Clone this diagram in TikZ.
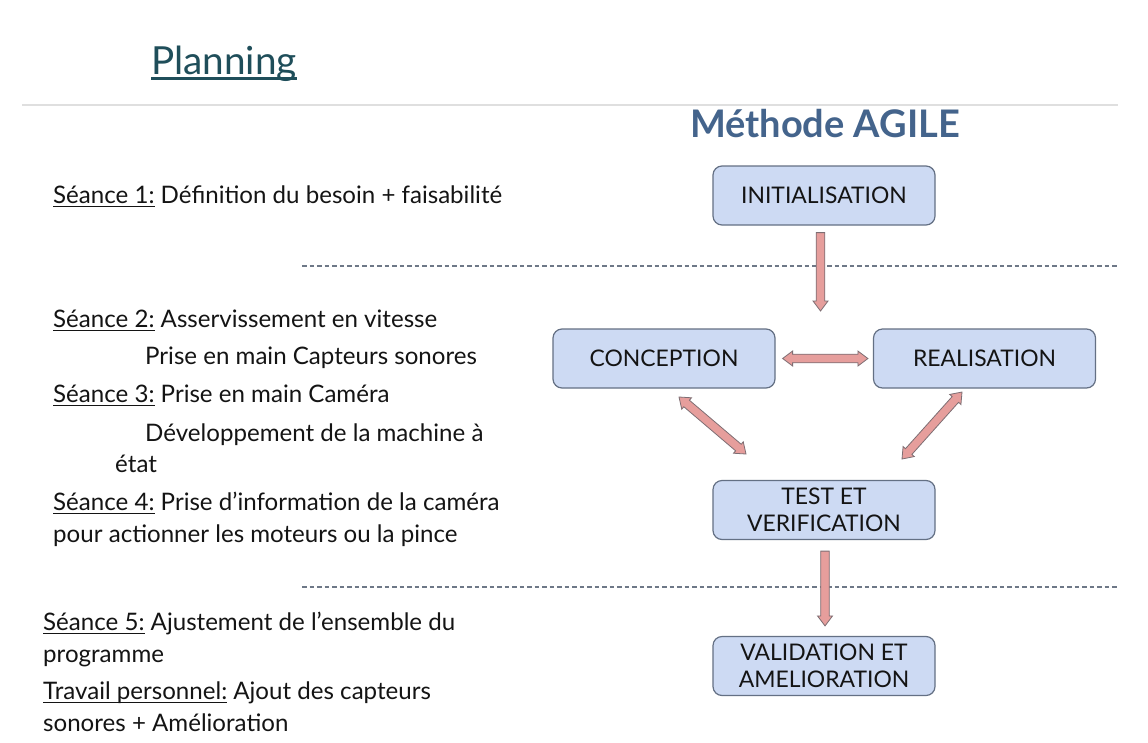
\documentclass[tikz,border=0pt]{standalone}
\usepackage{fontspec}
\setmainfont{Lato}
\usetikzlibrary{calc}
\definecolor{boxfill}{RGB}{205,218,243}
\definecolor{boxline}{RGB}{100,112,132}
\definecolor{arrfill}{RGB}{230,158,156}
\definecolor{arrline}{RGB}{125,110,115}
\definecolor{titlecol}{RGB}{31,78,90}
\definecolor{agilecol}{RGB}{68,100,140}
\definecolor{dashcol}{RGB}{110,120,135}
\definecolor{txt}{RGB}{20,20,20}
\newcommand\myul[3]{\setbox0\hbox{#3}\rlap{\rule[-#1]{\wd0}{#2}}\box0\relax}
\newcommand\su[1]{\myul{4.2pt}{1.6pt}{#1}}
\def\baSW{4.3pt}
\def\baHW{7.5pt}
\def\baHL{10pt}
\newcommand\sarrow[2]{%
  \coordinate (hB) at ($(#2)!\baHL!(#1)$);
  \draw[barrow] ($(#1)!\baSW!-90:(#2)$) -- ($(hB)!\baSW!90:(#1)$) -- ($(hB)!\baHW!90:(#1)$) -- (#2) -- ($(hB)!\baHW!-90:(#1)$) -- ($(hB)!\baSW!-90:(#1)$) -- ($(#1)!\baSW!90:(#2)$) -- cycle;}
\newcommand\darrow[2]{%
  \coordinate (hA) at ($(#1)!\baHL!(#2)$);
  \coordinate (hB) at ($(#2)!\baHL!(#1)$);
  \draw[barrow] (#1) -- ($(hA)!\baHW!-90:(#2)$) -- ($(hA)!\baSW!-90:(#2)$) -- ($(hB)!\baSW!90:(#1)$) -- ($(hB)!\baHW!90:(#1)$) -- (#2) -- ($(hB)!\baHW!-90:(#1)$) -- ($(hB)!\baSW!-90:(#1)$) -- ($(hA)!\baSW!90:(#2)$) -- ($(hA)!\baHW!90:(#2)$) -- cycle;}
\tikzset{
  box/.style={draw=boxline, fill=boxfill, line width=1.2pt, rounded corners=9pt, minimum width=222pt, minimum height=59pt, align=center, font=\fontsize{22.9}{27}\selectfont, text=txt, inner sep=0pt},
  barrow/.style={fill=arrfill, draw=arrline, line width=0.8pt, line join=miter},
  sep/.style={dashcol, line width=1.3pt, dash pattern=on 4.5pt off 3pt},
  lt/.style={anchor=base west, inner sep=0pt, font=\fontsize{24.1}{28}\selectfont, text=txt},
}
\begin{document}
\begin{tikzpicture}[x=1pt,y=-1pt]
\useasboundingbox[fill=white] (0,0) rectangle (1148,742);
% header
\node[anchor=base west, inner sep=0pt, font=\fontsize{38.7}{44}\selectfont, text=titlecol] (title) at (151,74) {\myul{5.5pt}{2.8pt}{Planning}};
\draw[gray!25, line width=1.5pt] (22,105) coordinate (hl1) -- (1118,105) coordinate (hl2);
\node[anchor=base, inner sep=0pt, font=\bfseries\fontsize{38}{42}\selectfont, text=agilecol] (agile) at (825,137) {Méthode AGILE};
% separators
\draw[sep] (302,266) coordinate (s1a) -- (1118,266) coordinate (s1b);
\draw[sep] (302,587) coordinate (s2a) -- (1118,587) coordinate (s2b);
% left text
\node[lt] (t1) at (53,203) {\su{Séance 1:} Définition du besoin + faisabilité};
\node[lt] (t2) at (53,327) {\su{Séance 2:} Asservissement en vitesse};
\node[lt] (t2b) at (145,364) {Prise en main Capteurs sonores};
\node[lt] (t3) at (53,402) {\su{Séance 3:} Prise en main Caméra};
\node[lt] (t3b) at (145,441) {Développement de la machine à};
\node[lt] (t3c) at (115,472) {état};
\node[lt] (t4) at (53,510) {\su{Séance 4:} Prise d’information de la caméra};
\node[lt] (t4b) at (53,542) {pour actionner les moteurs ou la pince};
\node[lt] (t5) at (43,630) {\su{Séance 5:} Ajustement de l’ensemble du};
\node[lt] (t5b) at (43,662) {programme};
\node[lt] (t6) at (43,699) {\su{Travail personnel:} Ajout des capteurs};
\node[lt] (t6b) at (43,731) {sonores + Amélioration};
% boxes
\node[box] (init) at (824,195.5) {INITIALISATION};
\node[box] (conc) at (664,358.5) {CONCEPTION};
\node[box] (real) at (984.5,358.5) {REALISATION};
\node[box] (test) at (824,510) {TEST ET\\VERIFICATION};
\node[box] (valid) at (824,666) {VALIDATION ET\\AMELIORATION};
% arrow ends
\coordinate (a1s) at ($(init.south)+(-3.5,7)$);
\coordinate (a1e) at (820.5,311);
\coordinate (a2s) at ($(conc.east)+(7,0)$);
\coordinate (a2e) at ($(real.west)+(-5,0)$);
\coordinate (a3s) at (679,397);
\coordinate (a3e) at (746,454);
\coordinate (a4s) at (962,392);
\coordinate (a4e) at (902,459);
\coordinate (a5s) at ($(test.south)+(1,11)$);
\coordinate (a5e) at ($(valid.north)+(1,-10)$);
\sarrow{a1s}{a1e}
\darrow{a2s}{a2e}
\darrow{a3s}{a3e}
\darrow{a4s}{a4e}
\sarrow{a5s}{a5e}
\end{tikzpicture}
\end{document}
